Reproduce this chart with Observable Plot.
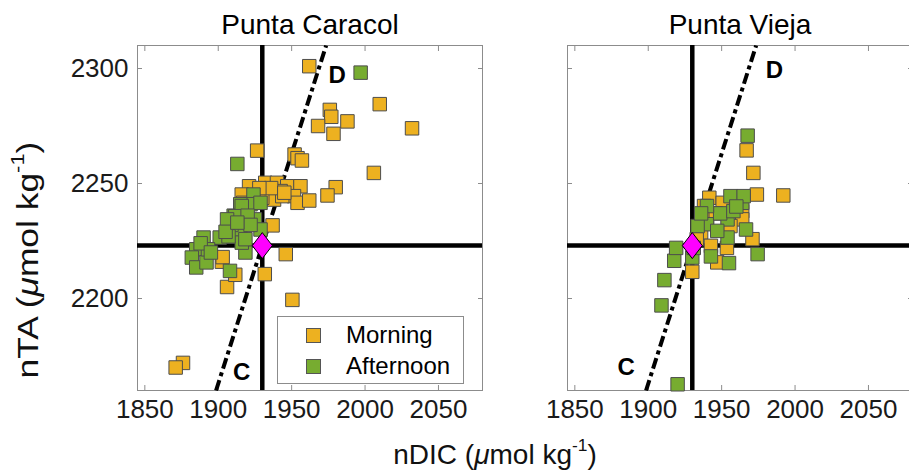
<!DOCTYPE html>
<html>
<head>
<meta charset="utf-8">
<script src="https://cdn.jsdelivr.net/npm/d3@7"></script>
<script src="https://cdn.jsdelivr.net/npm/@observablehq/plot@0.6"></script>
<style>
  body { margin: 0; background: #fff; }
  #fig { position: relative; width: 909px; height: 472px; overflow: hidden; background: #fff;
         font-family: "Liberation Sans", Arial, sans-serif; color: #000; }
  #fig svg { position: absolute; top: 0; }
  .axis-title { position: absolute; font-size: 28px; line-height: 1; white-space: nowrap; color: #111; }
  .axis-title sup { font-size: 0.62em; line-height: 0; vertical-align: 0.75em; }
  #xlabel { left: 495px; top: 441px; transform: translateX(-50%); }
  #ylabel { left: 28px; top: 260px; font-size: 29px; transform: translate(-50%, -50%) rotate(-90deg) scaleX(1.22); }
  #legend { position: absolute; left: 277px; top: 316px; width: 185px; height: 66px;
            border: 1px solid #8c8c8c; background: #fff; font-size: 24px; }
  #legend .row { position: absolute; left: 0; height: 24px; display: flex; align-items: center; }
  #legend .swatch { width: 13px; height: 13px; border: 1px solid #555; margin-left: 28px; margin-right: 25px; }
</style>
</head>
<body>
<div id="fig"></div>
<script>
// Sites, sampling periods and their colours
const sites = ["Punta Caracol", "Punta Vieja"];
const periods = ["Morning", "Afternoon"];
const periodColors = ["#EDB120", "#77AC30"];

// Axis ticks and extents (µmol kg-1)
const xTicks = [1850, 1900, 1950, 2000, 2050];
const yTicks = [2200, 2250, 2300];
const xDomain = [1845, 2080];
const yDomain = [2160, 2310];

// Reference seawater point and the calcification/dissolution vector (slope 2)
const refDIC = 1930;
const refTA = 2223;
const vectorSlope = 2;
const vectorLabels = ["C", "D"];
const pcLabelDIC = [1916, 1981];
const pcLabelTA = [2168, 2297];
const pvLabelDIC = [1885, 1986];
const pvLabelTA = [2170, 2299];

// Punta Caracol, morning
const pcMorningDIC = [1962, 2010, 1976, 1977, 1968, 1988, 1978.5, 2032, 1926.5, 2006,
  1952, 1954, 1957, 1980, 1974.4, 1950.5, 1946, 1931.7, 1906, 1911.6,
  1902.5, 1903, 1876, 1871, 1937,
  1921, 1932, 1940, 1947, 1956, 1933, 1942.5, 1951.6, 1954, 1962,
  1938, 1916, 1917, 1930, 1943.6, 1936, 1945, 1928];
const pcMorningTA = [2301, 2284.5, 2282, 2279, 2275, 2277, 2271.6, 2274, 2264.3, 2254.6,
  2262.6, 2261, 2260, 2248.4, 2244.8, 2199.4, 2219.3, 2210.6, 2205, 2210.3,
  2216, 2218, 2172, 2170, 2231.8,
  2248.8, 2250.3, 2250.3, 2248.8, 2248.8, 2246, 2246.7, 2244.5, 2241.6, 2242.6,
  2243, 2245.2, 2241.6, 2243.8, 2244.5, 2248, 2246, 2248];

// Punta Caracol, afternoon
const pcAfternoonDIC = [1997, 1913, 1924, 1922, 1915, 1910.5, 1915, 1925, 1909, 1890,
  1901, 1885, 1882, 1885, 1892, 1908, 1918.5, 1916, 1916, 1911.6,
  1906, 1907, 1918.5, 1893, 1928.8, 1928.8, 1888, 1895, 1905, 1920, 1922, 1913];
const pcAfternoonTA = [2298.2, 2258.5, 2245.2, 2241, 2241, 2236, 2230, 2234.4, 2232, 2226.5,
  2226.5, 2221.4, 2217.8, 2213.5, 2215.7, 2212, 2220, 2224.3, 2240.2, 2235.8,
  2234.4, 2227, 2225.8, 2221.4, 2230, 2241.6, 2224, 2220, 2229, 2236, 2232, 2233];

// Punta Vieja, morning
const pvMorningDIC = [1967, 1971.6, 1992, 1974, 1971, 1930, 1947, 1953.6, 1941.6, 1938,
  1964, 1964, 1936, 1942.7, 1956, 1950.7, 1933, 1940, 1946];
const pvMorningTA = [2264.4, 2254.6, 2244.8, 2245.2, 2225.8, 2211.6, 2215.7, 2222, 2243.8, 2240.2,
  2238, 2234.4, 2228.7, 2222.9, 2231.5, 2241.6, 2225.8, 2235, 2237];

// Punta Vieja, afternoon
const pvAfternoonDIC = [1967.7, 1920, 1909, 1911, 1917.7, 1919, 1974.5, 1955, 1942.7, 1954,
  1930, 1940, 1954, 1964, 1956, 1965, 1949, 1940, 1966.6, 1933.6,
  1947, 1931, 1958, 1936, 1960];
const pvAfternoonTA = [2270.8, 2162.7, 2197, 2208, 2216.4, 2222, 2219.3, 2215.4, 2218.3, 2226.5,
  2217.8, 2232.3, 2234.4, 2241.6, 2244.5, 2244.5, 2237, 2240.2, 2230, 2231.5,
  2229.4, 2222, 2238, 2237, 2240];

const zip = (dic, ta) => dic.map((d, i) => ({dic: d, ta: ta[i]}));
const labelRows = (dic, ta) => vectorLabels.map((t, i) => ({label: t, dic: dic[i], ta: ta[i]}));

// End points of the vector line across the TA range
const vectorLine = yDomain.map((ta) => ({dic: refDIC + (ta - refTA) / vectorSlope, ta}));

// A diamond a little taller than wide
const tallDiamond = {
  draw(context, size) {
    const r = Math.sqrt(size / Math.PI);
    const w = r, h = r * 1.3;
    context.moveTo(0, -h);
    context.lineTo(w, 0);
    context.lineTo(0, h);
    context.lineTo(-w, 0);
    context.closePath();
  }
};

const axisGray = "#8c8c8c";
const textColor = "#1a1a1a";

function panel({site, morning, afternoon, labels, showY, left, width, marginLeft, marginRight}) {
  const svg = Plot.plot({
    width, height: 472,
    marginLeft, marginRight, marginTop: 45, marginBottom: 82,
    x: {domain: xDomain},
    y: {domain: yDomain},
    style: {fontFamily: '"Liberation Sans", Arial, sans-serif', background: "transparent", overflow: "visible", color: textColor},
    marks: [
      Plot.frame({stroke: axisGray}),
      Plot.axisX({anchor: "bottom", ticks: xTicks, tickFormat: "d", tickSize: -5, tickPadding: 14,
        fontSize: 26, stroke: axisGray, fill: textColor, label: null}),
      Plot.axisX({anchor: "top", ticks: xTicks, tickFormat: () => "", tickSize: -5,
        stroke: axisGray, label: null}),
      Plot.axisY({anchor: "left", ticks: yTicks, tickFormat: showY ? "d" : () => "", tickSize: -5, tickPadding: 14,
        fontSize: 26, stroke: axisGray, fill: textColor, label: null}),
      Plot.axisY({anchor: "right", ticks: yTicks, tickFormat: () => "", tickSize: -5,
        stroke: axisGray, label: null}),
      Plot.ruleX([refDIC], {stroke: "black", strokeWidth: 4.5}),
      Plot.ruleY([refTA], {stroke: "black", strokeWidth: 4.5}),
      Plot.line(vectorLine, {x: "dic", y: "ta", stroke: "black", strokeWidth: 4,
        strokeDasharray: "11,4,4,4", strokeLinecap: "butt"}),
      Plot.dot(morning, {x: "dic", y: "ta", symbol: "square", r: 7.6,
        fill: periodColors[0], stroke: "#4d4d4d", strokeWidth: 1}),
      Plot.dot(afternoon, {x: "dic", y: "ta", symbol: "square", r: 7.6,
        fill: periodColors[1], stroke: "#4d4d4d", strokeWidth: 1}),
      Plot.dot([{dic: refDIC, ta: refTA}], {x: "dic", y: "ta", symbol: tallDiamond, r: 10,
        fill: "#FF00FF", stroke: "black", strokeWidth: 1}),
      Plot.text(labels, {x: "dic", y: "ta", text: "label", fontSize: 24, fontWeight: "bold", fill: "black"}),
      Plot.text([site], {frameAnchor: "top", dy: -20.5, lineAnchor: "middle", fontSize: 28, fill: "black"})
    ]
  });
  svg.style.left = left + "px";
  return svg;
}

const fig = document.getElementById("fig");
fig.append(panel({
  site: sites[0],
  morning: zip(pcMorningDIC, pcMorningTA),
  afternoon: zip(pcAfternoonDIC, pcAfternoonTA),
  labels: labelRows(pcLabelDIC, pcLabelTA),
  showY: true, left: 0, width: 490, marginLeft: 137, marginRight: 8
}));
fig.append(panel({
  site: sites[1],
  morning: zip(pvMorningDIC, pvMorningTA),
  afternoon: zip(pvAfternoonDIC, pvAfternoonTA),
  labels: labelRows(pvLabelDIC, pvLabelTA),
  showY: false, left: 520, width: 392, marginLeft: 47, marginRight: 0
}));

// Axis titles
const xlabel = document.createElement("div");
xlabel.id = "xlabel";
xlabel.className = "axis-title";
xlabel.innerHTML = "nDIC (<i>\u03bc</i>mol kg<sup>-1</sup>)";
fig.append(xlabel);

const ylabel = document.createElement("div");
ylabel.id = "ylabel";
ylabel.className = "axis-title";
ylabel.innerHTML = "nTA (<i>\u03bc</i>mol kg<sup>-1</sup>)";
fig.append(ylabel);

// Legend inside the first panel
const legend = document.createElement("div");
legend.id = "legend";
periods.forEach((p, i) => {
  const row = document.createElement("div");
  row.className = "row";
  row.style.top = (6 + i * 31) + "px";
  const sw = document.createElement("div");
  sw.className = "swatch";
  sw.style.background = periodColors[i];
  const label = document.createElement("span");
  label.textContent = p;
  row.append(sw, label);
  legend.append(row);
});
fig.append(legend);
</script>
</body>
</html>
